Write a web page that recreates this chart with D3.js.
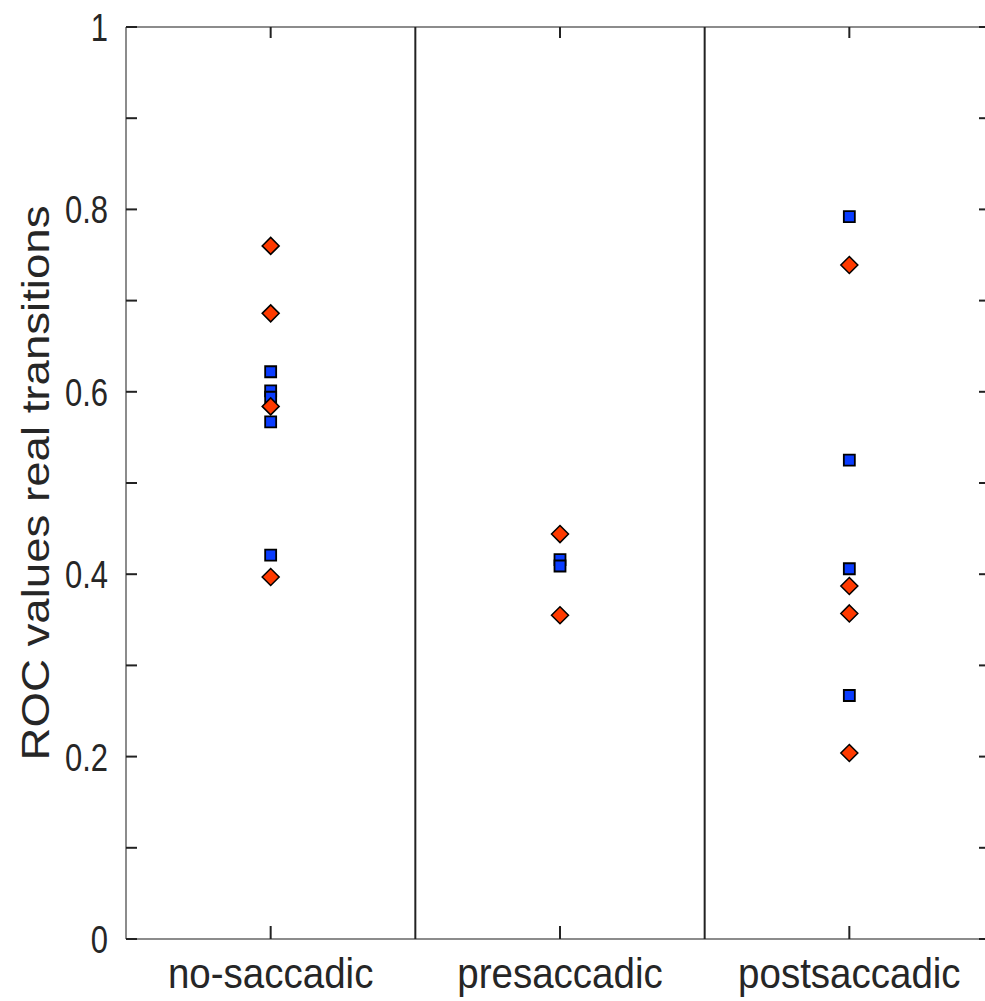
<!DOCTYPE html>
<html>
<head>
<meta charset="utf-8">
<script src="https://cdn.jsdelivr.net/npm/d3@7"></script>
<style>
  html, body { margin: 0; padding: 0; background: #fff; }
  text { font-family: "Liberation Sans", Arial, Helvetica, sans-serif; fill: #262626; }
</style>
</head>
<body>
<div id="chart"></div>
<script>
const categories = ["no-saccadic", "presaccadic", "postsaccadic"];

// blue squares, one list per category
const blueNoSaccadic = [0.622, 0.601, 0.594, 0.567, 0.421];
const bluePresaccadic = [0.416, 0.409];
const bluePostsaccadic = [0.792, 0.525, 0.406, 0.267];

// red diamonds, one list per category
const redNoSaccadic = [0.760, 0.686, 0.584, 0.397];
const redPresaccadic = [0.444, 0.355];
const redPostsaccadic = [0.739, 0.387, 0.357, 0.204];

const yTicks = [0, 0.1, 0.2, 0.3, 0.4, 0.5, 0.6, 0.7, 0.8, 0.9, 1];
const yTickLabels = ["0", "", "0.2", "", "0.4", "", "0.6", "", "0.8", "", "1"];

const width = 985, height = 1001;
const plotLeft = 126, plotRight = 994, plotTop = 27, plotBottom = 939;
const tickLen = 11;

const svg = d3.select("#chart").append("svg")
    .attr("width", width)
    .attr("height", height);

const xScale = d3.scaleLinear().domain([0.5, 3.5]).range([plotLeft, plotRight]);
const yScale = d3.scaleLinear().domain([0, 1]).range([plotBottom, plotTop]);

const blueSeries = [blueNoSaccadic, bluePresaccadic, bluePostsaccadic];
const redSeries = [redNoSaccadic, redPresaccadic, redPostsaccadic];

function flatten(series) {
    let out = [];
    series.forEach(function (vals, i) {
        vals.forEach(function (v) { out.push({ cat: i + 1, value: v }); });
    });
    return out;
}

// box lines (gray, as in the reference)
const boxColor = "#8c8c8c";
svg.append("line")
    .attr("x1", plotLeft).attr("x2", plotLeft).attr("y1", plotTop).attr("y2", plotBottom)
    .attr("stroke", boxColor).attr("stroke-width", 2);
svg.append("line")
    .attr("x1", plotLeft).attr("x2", plotRight).attr("y1", plotBottom).attr("y2", plotBottom)
    .attr("stroke", boxColor).attr("stroke-width", 2);
svg.append("line")
    .attr("x1", plotLeft).attr("x2", plotRight).attr("y1", plotTop).attr("y2", plotTop)
    .attr("stroke", boxColor).attr("stroke-width", 2);
svg.append("line")
    .attr("x1", plotRight).attr("x2", plotRight).attr("y1", plotTop).attr("y2", plotBottom)
    .attr("stroke", boxColor).attr("stroke-width", 2);

// dividers between groups
svg.selectAll("line.divider")
    .data([1.5, 2.5])
    .enter()
    .append("line")
    .attr("class", "divider")
    .attr("x1", d => xScale(d)).attr("x2", d => xScale(d))
    .attr("y1", plotTop).attr("y2", plotBottom)
    .attr("stroke", "#222").attr("stroke-width", 2);

// y ticks, both sides, pointing inwards
svg.selectAll("line.ytickL")
    .data(yTicks)
    .enter()
    .append("line")
    .attr("class", "ytickL")
    .attr("x1", plotLeft).attr("x2", plotLeft + tickLen)
    .attr("y1", d => yScale(d)).attr("y2", d => yScale(d))
    .attr("stroke", "#222").attr("stroke-width", 2);
svg.selectAll("line.ytickR")
    .data(yTicks)
    .enter()
    .append("line")
    .attr("class", "ytickR")
    .attr("x1", plotRight - tickLen - 4).attr("x2", plotRight)
    .attr("y1", d => yScale(d)).attr("y2", d => yScale(d))
    .attr("stroke", "#222").attr("stroke-width", 2);

// x ticks, bottom and top
const xTicks = [1, 2, 3];
svg.selectAll("line.xtickB")
    .data(xTicks)
    .enter()
    .append("line")
    .attr("class", "xtickB")
    .attr("x1", d => xScale(d)).attr("x2", d => xScale(d))
    .attr("y1", plotBottom).attr("y2", plotBottom - tickLen - 2)
    .attr("stroke", "#222").attr("stroke-width", 2);
svg.selectAll("line.xtickT")
    .data(xTicks)
    .enter()
    .append("line")
    .attr("class", "xtickT")
    .attr("x1", d => xScale(d)).attr("x2", d => xScale(d))
    .attr("y1", plotTop).attr("y2", plotTop + tickLen)
    .attr("stroke", "#222").attr("stroke-width", 2);

// y tick labels
svg.selectAll("text.ylab")
    .data(yTicks.filter((d, i) => yTickLabels[i] !== ""))
    .enter()
    .append("text")
    .attr("class", "ylab")
    .attr("transform", d => "translate(" + (plotLeft - 18) + "," + yScale(d) + ") scale(1,1.26)")
    .attr("text-anchor", "end")
    .attr("dy", "0.36em")
    .style("font-size", "31px")
    .text(d => yTickLabels[yTicks.indexOf(d)]);

// x category labels
svg.selectAll("text.xlab")
    .data(categories)
    .enter()
    .append("text")
    .attr("class", "xlab")
    .attr("transform", (d, i) => "translate(" + xScale(i + 1) + ",988) scale(1,1.1)")
    .attr("text-anchor", "middle")
    .style("font-size", "38.5px")
    .text(d => d);

// y axis title
svg.append("text")
    .attr("transform", "translate(49," + ((plotTop + plotBottom) / 2) + ") rotate(-90) scale(1.2,1)")
    .attr("text-anchor", "middle")
    .style("font-size", "38px")
    .text("ROC values real transitions");

// markers
const diamond = {
    draw: function (ctx, size) {
        const r = Math.sqrt(size) / 2;
        ctx.moveTo(0, -r);
        ctx.lineTo(r, 0);
        ctx.lineTo(0, r);
        ctx.lineTo(-r, 0);
        ctx.closePath();
    }
};

svg.selectAll("path.blue")
    .data(flatten(blueSeries))
    .enter()
    .append("path")
    .attr("class", "blue")
    .attr("d", d3.symbol().type(d3.symbolSquare).size(121))
    .attr("transform", d => "translate(" + xScale(d.cat) + "," + yScale(d.value) + ")")
    .attr("fill", "#0a3cff")
    .attr("stroke", "#000")
    .attr("stroke-width", 1.8);

svg.selectAll("path.red")
    .data(flatten(redSeries))
    .enter()
    .append("path")
    .attr("class", "red")
    .attr("d", d3.symbol().type(diamond).size(289))
    .attr("transform", d => "translate(" + xScale(d.cat) + "," + yScale(d.value) + ")")
    .attr("fill", "#ff3a00")
    .attr("stroke", "#000")
    .attr("stroke-width", 1.5);
</script>
</body>
</html>
